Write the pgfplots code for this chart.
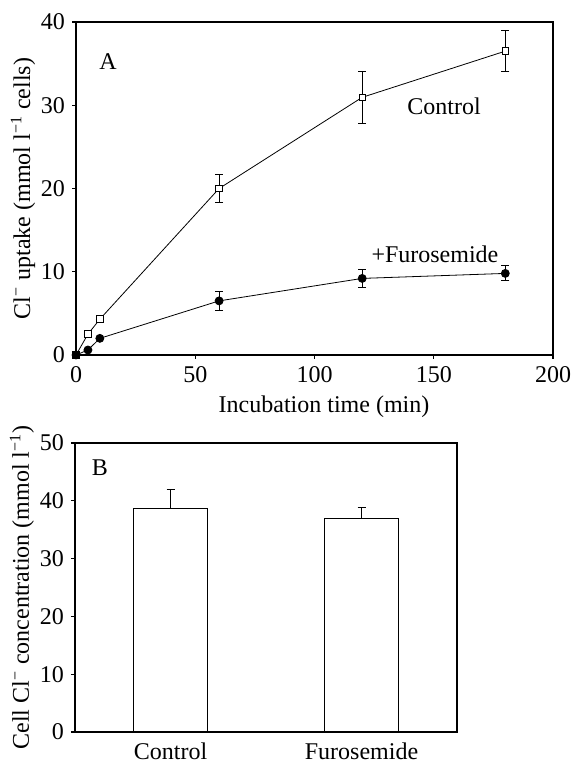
\documentclass[border=0pt]{standalone}
\usepackage{fontspec}
\setmainfont{Liberation Serif}
\usepackage{pgfplots}
\pgfplotsset{compat=1.18}
\begin{document}
\begin{tikzpicture}
\pgfplotsset{
  every axis/.append style={
    font=\fontsize{12}{14}\selectfont,
    scale only axis,
    /pgf/number format/assume math mode=true,
    axis line style={line width=0.6pt},
    tick style={line width=0.6pt, black},
    tick align=outside,
    tick pos=left,
    major tick length=2pt,
    ticklabel style={font=\fontsize{12}{14}\selectfont},
  }
}
% Panel A
\begin{axis}[
  name=A,
  at={(0,0)}, anchor=south west,
  width=238.5pt, height=166.5pt,
  xmin=0, xmax=200, ymin=0, ymax=40,
  xtick={0,50,100,150,200},
  ytick={0,10,20,30,40},
  clip=false,
  xlabel={Incubation time (min)},
  ylabel={Cl\textsuperscript{−} uptake (mmol l\textsuperscript{−1} cells)},
  xlabel style={at={(axis description cs:0.52,0)}, anchor=center, yshift=-26pt},
  ylabel style={at={(axis description cs:-0.111,0.5)}, anchor=center},
]
\addplot[black, line width=0.4pt, mark=square*, mark options={fill=white, mark size=1.6pt, line width=0.5pt},
  error bars/.cd, y dir=both, y explicit,
  error bar style={line width=0.5pt, black},
  error mark options={rotate=90, mark size=2pt, line width=0.5pt}]
coordinates {
  (0,0) +- (0,0)
  (5,2.5) +- (0,0)
  (10,4.3) +- (0,0)
  (60,20.0) +- (0,1.7)
  (120,30.95) +- (0,3.15)
  (180,36.5) +- (0,2.5)
};
\addplot[black, line width=0.4pt, mark=*, mark options={fill=black, mark size=2pt},
  error bars/.cd, y dir=both, y explicit,
  error bar style={line width=0.5pt, black},
  error mark options={rotate=90, mark size=2pt, line width=0.5pt}]
coordinates {
  (0,0) +- (0,0)
  (5,0.6) +- (0,0)
  (10,2.0) +- (0,0)
  (60,6.5) +- (0,1.15)
  (120,9.2) +- (0,1.05)
  (180,9.8) +- (0,0.9)
};
\node at (axis cs:13.4,35.2) {A};
\node at (axis cs:154.3,29.9) {Control};
\node at (axis cs:150.5,12.1) {+Furosemide};
\end{axis}
% Panel B
\begin{axis}[
  at={(-0.5pt,-44pt)}, anchor=north west,
  width=191pt, height=144.5pt,
  xmin=0.5, xmax=2.5, ymin=0, ymax=50,
  xtick={1,2}, xticklabels={Control, Furosemide},
  x tick style={draw=none},
  ytick={0,10,20,30,40,50},
  clip=false,
  ylabel={Cell Cl\textsuperscript{−} concentration (mmol l\textsuperscript{−1})},
  ylabel style={at={(axis description cs:-0.139,0.5)}, anchor=center},
]
\addplot[ybar, bar width=0.39, draw=black, fill=white, line width=0.6pt,
  error bars/.cd, y dir=plus, y explicit,
  error bar style={line width=0.5pt, black},
  error mark options={rotate=90, mark size=2pt, line width=0.5pt}]
coordinates {
  (1,38.6) +- (0,3.4)
  (2,37.0) +- (0,1.8)
};
\node at (axis cs:0.63,45.7) {B};
\end{axis}
\pgfresetboundingbox
\path (-38pt,-204pt) rectangle (249.5pt,177.5pt);
\end{tikzpicture}
\end{document}
